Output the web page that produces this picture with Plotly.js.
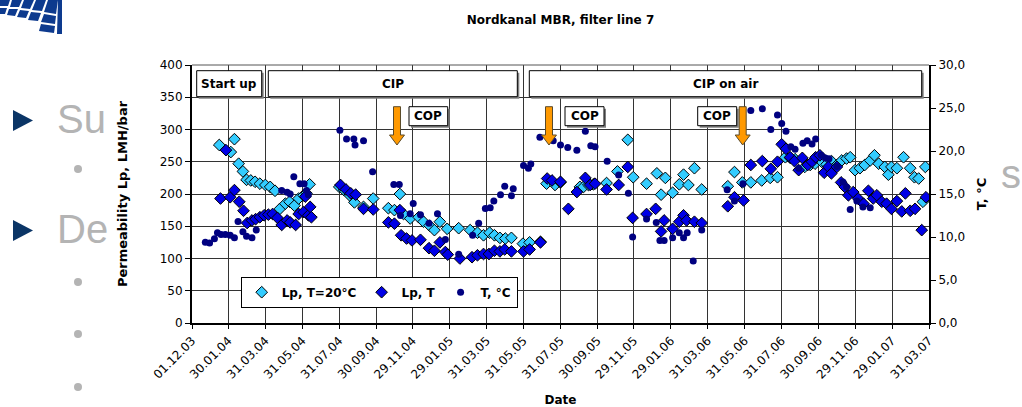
<!DOCTYPE html>
<html>
<head>
<meta charset="utf-8">
<script src="https://cdn.plot.ly/plotly-3.0.1.min.js"></script>
<style>
html,body{margin:0;padding:0;background:#ffffff;}
#chart{width:1022px;height:407px;}
</style>
</head>
<body>
<div id="chart"></div>
<script>
// ---------- data ----------
const chartTitle = 'Nordkanal MBR, filter line 7';
const tickLabels = ['01.12.03','30.01.04','31.03.04','31.05.04','31.07.04','30.09.04','29.11.04','29.01.05',
  '31.03.05','31.05.05','31.07.05','30.09.05','29.11.05','29.01.06','31.03.06','31.05.06','31.07.06',
  '30.09.06','29.11.06','29.01.07','31.03.07'];
const tempTicks = [0,5,10,15,20,25,30];
const seriesNames = ['Lp, T=20°C','Lp, T','T, °C'];

// Lp normalised to 20 °C (LMH/bar)
const lp20Dates = ['2004-01-15','2004-02-03','2004-02-09','2004-02-16','2004-02-23','2004-02-29','2004-03-07','2004-03-14',
 '2004-03-22','2004-03-31','2004-04-08','2004-04-16','2004-04-24','2004-05-03','2004-05-10','2004-05-18','2004-05-25',
 '2004-06-02','2004-06-07','2004-06-12','2004-07-31','2004-08-08','2004-08-17','2004-08-25','2004-09-09','2004-09-25',
 '2004-10-20','2004-10-30','2004-11-08','2004-11-14','2004-11-25','2004-12-09','2004-12-17','2004-12-27','2005-01-04',
 '2005-01-13','2005-01-25','2005-02-13','2005-03-04','2005-03-16','2005-03-26','2005-04-05','2005-04-13','2005-04-22',
 '2005-05-01','2005-05-11','2005-05-30','2005-06-10','2005-06-28','2005-07-08','2005-07-22','2005-07-31','2005-09-01',
 '2005-09-07','2005-09-15','2005-09-23','2005-10-15','2005-11-02','2005-11-19','2005-11-28','2005-12-20','2006-01-06',
 '2006-01-13','2006-01-20','2006-02-01','2006-02-12','2006-02-19','2006-02-27','2006-03-09','2006-03-21','2006-05-03',
 '2006-05-14','2006-05-27','2006-06-10','2006-06-28','2006-07-12','2006-07-24','2006-08-06','2006-08-14','2006-08-22',
 '2006-09-07','2006-09-16','2006-09-24','2006-10-05','2006-10-13','2006-10-21','2006-10-30','2006-11-07','2006-11-15',
 '2006-11-21','2006-11-29','2006-12-07','2006-12-15','2006-12-24','2006-12-31','2007-01-07','2007-01-17','2007-01-23',
 '2007-01-28','2007-02-06','2007-02-17','2007-02-28','2007-03-07','2007-03-14','2007-03-21','2007-03-25'];
const lp20Values = [276,265,285,247,235,222,221,219,
 216,214,211,205,177,185,188,182,193,
 198,201,215,211,206,198,187,180,193,
 178,175,200,169,162,164,157,151,144,
 157,146,147,144,140,136,140,136,132,
 131,132,123,125,126,216,214,218,211,
 211,214,215,217,235,284,226,216,232,
 199,225,202,215,230,214,240,207,212,
 234,218,218,221,225,226,257,256,254,
 242,245,247,250,246,251,245,252,255,
 257,237,240,245,252,260,247,242,230,
 242,240,257,240,226,224,188,242];

// Lp at actual temperature (LMH/bar)
const lpDates = ['2004-01-17','2004-01-26','2004-02-02','2004-02-09','2004-02-17','2004-02-24','2004-03-01','2004-03-09',
 '2004-03-15','2004-03-22','2004-03-29','2004-04-05','2004-04-12','2004-04-20','2004-04-27','2004-05-06','2004-05-11',
 '2004-05-20','2004-05-25','2004-06-02','2004-06-05','2004-06-10','2004-06-13','2004-06-15','2004-08-02','2004-08-11',
 '2004-08-19','2004-08-27','2004-09-09','2004-09-25','2004-10-20','2004-10-30','2004-11-08','2004-11-10','2004-11-19',
 '2004-11-28','2004-12-12','2004-12-26','2005-01-04','2005-01-13','2005-01-22','2005-01-26','2005-02-15','2005-03-07',
 '2005-03-16','2005-03-26','2005-04-04','2005-04-13','2005-04-22','2005-04-30','2005-05-11','2005-05-31','2005-06-10',
 '2005-06-28','2005-07-09','2005-07-17','2005-07-31','2005-08-13','2005-08-27','2005-09-10','2005-09-18','2005-09-26',
 '2005-10-15','2005-11-04','2005-11-19','2005-11-27','2005-12-20','2006-01-04','2006-01-13','2006-01-18','2006-02-01',
 '2006-02-12','2006-02-19','2006-02-24','2006-03-09','2006-03-21','2006-05-03','2006-05-14','2006-05-29','2006-06-10',
 '2006-06-29','2006-07-13','2006-07-24','2006-07-31','2006-08-07','2006-08-14','2006-08-21','2006-08-28','2006-09-03',
 '2006-09-12','2006-09-19','2006-09-25','2006-10-02','2006-10-09','2006-10-16','2006-10-21','2006-10-30','2006-11-06',
 '2006-11-12','2006-11-18','2006-11-26','2006-12-04','2006-12-13','2006-12-21','2006-12-29','2007-01-04','2007-01-12',
 '2007-01-20','2007-01-28','2007-02-06','2007-02-14','2007-02-20','2007-02-28','2007-03-08','2007-03-19','2007-03-26'];
const lpValues = [193,268,195,206,188,174,155,159,
 161,164,167,168,169,163,152,159,156,
 152,169,172,196,167,180,164,214,207,
 201,199,177,176,156,154,175,136,131,
 128,129,116,112,125,110,106,100,102,
 105,107,107,112,111,114,111,111,114,
 125,224,221,219,177,203,225,214,216,
 207,214,242,163,169,177,142,159,146,
 157,167,159,157,155,181,195,190,245,
 251,239,250,277,270,257,251,237,256,
 245,250,257,260,233,242,232,242,218,
 211,198,203,193,185,205,193,198,188,
 185,177,189,173,201,174,177,144,195];

// Temperature (°C)
const tempDates = ['2003-12-23','2003-12-30','2004-01-07','2004-01-12','2004-01-18','2004-01-25','2004-02-02','2004-02-09',
 '2004-02-15','2004-02-23','2004-02-29','2004-03-09','2004-03-16','2004-04-27','2004-05-06','2004-05-11','2004-05-17',
 '2004-05-27','2004-06-03','2004-06-07','2004-06-10','2004-08-01','2004-08-12','2004-08-24','2004-08-26','2004-09-09',
 '2004-09-24','2004-10-29','2004-11-07','2004-11-09','2004-11-25','2004-11-30','2004-12-12','2004-12-26','2005-01-09',
 '2005-01-22','2005-02-13','2005-03-08','2005-03-18','2005-03-29','2005-04-06','2005-04-12','2005-04-23','2005-04-30',
 '2005-05-11','2005-05-14','2005-05-31','2005-06-08','2005-06-12','2005-06-27','2005-07-19','2005-07-31','2005-08-12',
 '2005-08-27','2005-09-10','2005-09-19','2005-09-26','2005-10-16','2005-11-04','2005-11-20','2005-11-27','2005-12-20',
 '2006-01-05','2006-01-11','2006-01-18','2006-02-01','2006-02-12','2006-02-19','2006-02-25','2006-03-07','2006-03-21',
 '2006-05-02','2006-05-14','2006-05-28','2006-06-10','2006-06-29','2006-07-13','2006-07-24','2006-07-31','2006-08-07',
 '2006-08-15','2006-08-22','2006-08-28','2006-09-04','2006-09-11','2006-09-19','2006-09-25','2006-10-04','2006-10-11',
 '2006-10-17','2006-10-30','2006-11-09','2006-11-15','2006-11-21','2006-12-02','2006-12-12','2006-12-24'];
const tempValues = [9.4,9.3,9.8,10.5,10.3,10.3,10.2,9.9,
 11.8,10.6,10.1,9.9,10.8,15.4,15.2,15.0,17.0,
 16.2,16.2,15.4,14.9,22.4,21.4,21.4,20.7,21.2,
 17.6,16.1,16.1,12.5,12.7,13.9,12.6,11.6,12.7,
 9.7,8.0,10.2,11.6,13.3,13.4,14.2,14.9,15.9,
 14.8,15.6,18.3,18.0,18.5,21.6,21.2,20.7,20.4,
 20.1,22.3,20.6,20.5,18.8,17.2,15.1,10.0,12.1,
 11.7,9.6,9.6,9.9,10.5,9.9,10.5,7.2,10.8,
 15.5,14.2,16.2,24.7,24.9,22.5,24.2,23.2,22.3,
 20.5,20.2,18.0,20.9,21.2,20.8,21.4,19.5,19.2,
 19.1,18.2,16.4,15.8,13.2,14.2,13.5,13.4];

// phase labels and COP events (text)
const phaseLabels = ['Start up','CIP','CIP on air'];
const copLabel = 'COP';
// ---------------------------------------------------

const FONT = 'DejaVu Sans, Liberation Sans, sans-serif';
const tickVals = tickLabels.map(l => { const p = l.split('.'); return '20' + p[2] + '-' + p[1] + '-' + p[0]; });

// plot area in pixels: left 192, right 929, top 65, bottom 323
const PL = 192, PR = 929, PT = 65, PB = 323;
const px = v => (v - PL) / (PR - PL);
const py = v => (PB - v) / (PB - PT);

const shapes = [];
const annotations = [];

// top frame line
shapes.push({type:'line', xref:'paper', yref:'paper', x0:0, x1:1, y0:1, y1:1, line:{color:'#555', width:1}, layer:'above'});

// boxed labels with shadow
function box(x0, x1, y0, y1, text, size) {
  shapes.push({type:'rect', xref:'paper', yref:'paper', x0:px(x0+2), x1:px(x1+2), y0:py(y1+2), y1:py(y0+2),
    fillcolor:'#808080', line:{width:0}, layer:'above'});
  shapes.push({type:'rect', xref:'paper', yref:'paper', x0:px(x0), x1:px(x1), y0:py(y1), y1:py(y0),
    fillcolor:'#ffffff', line:{color:'#000', width:1}, layer:'above'});
  annotations.push({xref:'paper', yref:'paper', x:px((x0+x1)/2), y:py((y0+y1)/2), text:text, showarrow:false,
    xanchor:'center', yanchor:'middle', font:{family:FONT, size:size, color:'#000', weight:'bold'}});
}
box(196.7, 261.7, 70.7, 96.7, phaseLabels[0], 12);
box(268.3, 517.3, 70.7, 96.7, phaseLabels[1], 12);
box(529.3, 921.7, 70.7, 96.7, phaseLabels[2], 12);
box(409, 447.7, 106.7, 125.7, copLabel, 12);
box(565, 604, 106.7, 125.7, copLabel, 12);
box(697.7, 736.7, 106.7, 125.7, copLabel, 12);

// orange block arrows
function arrow(cx) {
  const top = 106.7, hb = 135, tip = 145, sw = 3.5, hw = 7.5;
  const pts = [[cx-sw,top],[cx+sw,top],[cx+sw,hb],[cx+hw,hb],[cx,tip],[cx-hw,hb],[cx-sw,hb]];
  const d = 'M' + pts.map(p => px(p[0]).toFixed(5) + ',' + py(p[1]).toFixed(5)).join(' L') + ' Z';
  shapes.push({type:'path', xref:'paper', yref:'paper', path:d, fillcolor:'#FF9900', line:{color:'#5a4a2a', width:1}, layer:'above'});
}
arrow(397); arrow(549); arrow(742.7);

// slide background fragments
const slideGray = '#B4B4B4';
function tri(x0, yc) {
  const d = 'M' + px(x0) + ',' + py(yc-10.5) + ' L' + px(x0) + ',' + py(yc+10.5) + ' L' + px(x0+20) + ',' + py(yc) + ' Z';
  shapes.push({type:'path', xref:'paper', yref:'paper', path:d, fillcolor:'#0B3566', line:{width:0}, layer:'above'});
}
tri(13, 120.5); tri(13, 230.5);
[169, 282, 334, 387].forEach(y => {
  shapes.push({type:'circle', xref:'paper', yref:'paper', x0:px(74), x1:px(82), y0:py(y+4), y1:py(y-4),
    fillcolor:slideGray, line:{width:0}, layer:'above'});
});
annotations.push({xref:'paper', yref:'paper', x:px(55), y:py(119), text:'Su', showarrow:false, xanchor:'left', yanchor:'middle',
  font:{family:'Liberation Sans, Arial, sans-serif', size:40, color:slideGray}});
annotations.push({xref:'paper', yref:'paper', x:px(55), y:py(229), text:'De', showarrow:false, xanchor:'left', yanchor:'middle',
  font:{family:'Liberation Sans, Arial, sans-serif', size:40, color:slideGray}});
annotations.push({xref:'paper', yref:'paper', x:px(999), y:py(174), text:'s', showarrow:false, xanchor:'left', yanchor:'middle',
  font:{family:'Liberation Sans, Arial, sans-serif', size:40, color:slideGray}});
// logo tiles (top-left corner)
const logoTiles = [
  [[0,0],[10,0],[8,6],[0,6]], [[12,0],[22,0],[19,7],[10,7]], [[24,0],[34,0],[30,9],[21,8]], [[36,0],[46,0],[42,11],[32,10]],
  [[0,8],[7,8],[5,14],[0,14]], [[9,9],[18,9],[15,16],[7,15]], [[20,10],[29,11],[26,18],[17,17]], [[31,12],[41,13],[38,21],[28,20]],
  [[48,0],[58,0],[56,14],[44,12]], [[44,14],[56,16],[55,24],[41,22]], [[41,24],[55,26],[54,33],[39,31]], [[58,0],[62,0],[62,34],[57,34]]
];
logoTiles.forEach(t => {
  const d = 'M' + t.map(p => px(p[0]).toFixed(5) + ',' + py(p[1]).toFixed(5)).join(' L') + ' Z';
  shapes.push({type:'path', xref:'paper', yref:'paper', path:d, fillcolor:'#0D3A8E', line:{width:0}, layer:'above'});
});

const traces = [
  {type:'scatter', mode:'markers', name:seriesNames[0], x:lp20Dates, y:lp20Values, yaxis:'y', legendrank:1,
   marker:{symbol:'diamond', size:9, color:'#33CCFF', line:{color:'#000', width:1}}},
  {type:'scatter', mode:'markers', name:seriesNames[1], x:lpDates, y:lpValues, yaxis:'y', legendrank:2,
   marker:{symbol:'diamond', size:9, color:'#0000E6', line:{color:'#000', width:1}}},
  {type:'scatter', mode:'markers', name:seriesNames[2], x:tempDates, y:tempValues, yaxis:'y2', legendrank:3,
   marker:{symbol:'circle', size:7, color:'#000080'}}
];

const layout = {
  width:1022, height:407,
  margin:{l:PL, r:1022-PR, t:PT, b:407-PB, pad:0},
  paper_bgcolor:'#ffffff', plot_bgcolor:'#ffffff',
  separators:',.',
  font:{family:FONT, size:12, color:'#000'},
  showlegend:true,
  title:{text:chartTitle, x:px(560.5), xref:'paper', xanchor:'center', y:1-20/407, yref:'container', yanchor:'middle',
    font:{family:FONT, size:12, color:'#000', weight:'bold'}},
  xaxis:{type:'date', range:['2003-12-01','2007-03-31'], tickmode:'array', tickvals:tickVals, ticktext:tickLabels,
    tickangle:-45, tickfont:{family:FONT, size:12, color:'#000'},
    showgrid:true, gridcolor:'#333333', gridwidth:1, zeroline:false,
    showline:true, linecolor:'#000', linewidth:2, ticks:'outside', ticklen:4, tickcolor:'#000', tickwidth:1,
    title:{text:'Date', font:{family:FONT, size:12, color:'#000', weight:'bold'}, standoff:16}},
  yaxis:{range:[0,400], tickmode:'linear', tick0:0, dtick:50, tickfont:{family:FONT, size:12, color:'#000'},
    showgrid:true, gridcolor:'#333333', gridwidth:1, zeroline:false,
    showline:true, linecolor:'#000', linewidth:2, ticks:'outside', ticklen:5, tickcolor:'#000', tickwidth:1,
    title:{text:'Permeability Lp, LMH/bar', font:{family:FONT, size:13, color:'#000', weight:'bold'}, standoff:29}},
  yaxis2:{range:[0,30], overlaying:'y', side:'right', tickmode:'array', tickvals:tempTicks, tickformat:'.1f',
    tickfont:{family:FONT, size:12, color:'#000'}, showgrid:false, zeroline:false,
    showline:true, linecolor:'#000', linewidth:2, ticks:'outside', ticklen:5, tickcolor:'#000', tickwidth:1,
    title:{text:'T, °C', font:{family:FONT, size:13, color:'#000', weight:'bold'}, standoff:13}},
  legend:{x:px(240.7), xanchor:'left', y:py(307.7), yanchor:'bottom', orientation:'h', bgcolor:'#ffffff',
    bordercolor:'#000', borderwidth:1, font:{family:FONT, size:12, color:'#000', weight:'bold'}, itemwidth:30},
  shapes:shapes,
  annotations:annotations
};

Plotly.newPlot('chart', traces, layout, {displayModeBar:false, staticPlot:true});
</script>
</body>
</html>
